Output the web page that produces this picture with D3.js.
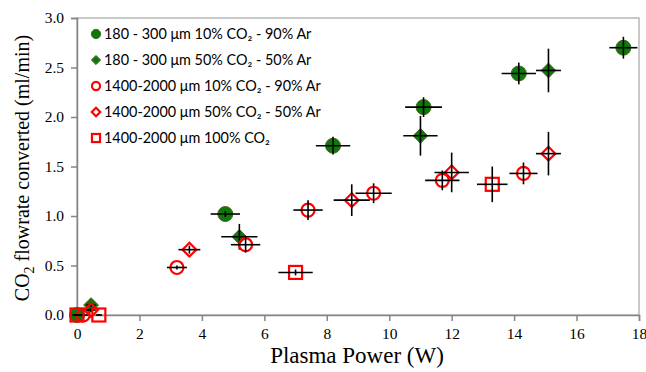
<!DOCTYPE html>
<html><head><meta charset="utf-8">
<script src="https://cdn.jsdelivr.net/npm/d3@7"></script>
<style>body{margin:0;background:#fff}svg{display:block}</style>
</head><body>
<svg id="c" width="646" height="372"></svg>
<script>
// Series data: x (W), y (ml/min), x error, y error
const gcX = [0.0, 4.75, 8.2, 11.1, 14.15, 17.5];
const gcY = [0.0, 1.02, 1.71, 2.10, 2.44, 2.70];
const gcXe = [0.15, 0.47, 0.55, 0.59, 0.55, 0.45];
const gcYe = [0.02, 0.03, 0.09, 0.10, 0.11, 0.11];

const gdX = [0.45, 5.2, 11.0, 15.1];
const gdY = [0.10, 0.79, 1.81, 2.47];
const gdXe = [0.15, 0.58, 0.55, 0.40];
const gdYe = [0.02, 0.13, 0.20, 0.22];

const rcX = [0.2, 3.2, 5.4, 7.4, 9.5, 11.7, 14.3];
const rcY = [0.0, 0.48, 0.71, 1.06, 1.23, 1.36, 1.43];
const rcXe = [0.15, 0.32, 0.47, 0.47, 0.58, 0.55, 0.45];
const rcYe = [0.02, 0.02, 0.08, 0.10, 0.10, 0.10, 0.11];

const rdX = [0.45, 3.6, 8.8, 12.0, 15.1];
const rdY = [0.05, 0.66, 1.16, 1.44, 1.63];
const rdXe = [0.15, 0.35, 0.58, 0.55, 0.40];
const rdYe = [0.02, 0.04, 0.16, 0.20, 0.22];

const rsX = [0.0, 0.7, 7.0, 13.3];
const rsY = [0.0, 0.0, 0.43, 1.32];
const rsXe = [0.1, 0.1, 0.55, 0.49];
const rsYe = [0.01, 0.01, 0.03, 0.18];

const xTicks = [0, 2, 4, 6, 8, 10, 12, 14, 16, 18];
const yTicks = [0.0, 0.5, 1.0, 1.5, 2.0, 2.5, 3.0];
const legendLabels = [
  "180 - 300 μm 10% CO₂ - 90% Ar",
  "180 - 300 μm 50% CO₂ - 50% Ar",
  "1400-2000 μm 10% CO₂ - 90% Ar",
  "1400-2000 μm 50% CO₂ - 50% Ar",
  "1400-2000 μm 100% CO₂"
];

const SERIF = '"Liberation Serif"';
const SANS = '"Lato"';

const svg = d3.select("#c");
const L = 77, R = 639, T = 18, B = 315;
const x = d3.scaleLinear().domain([0, 18]).range([L, R]);
const y = d3.scaleLinear().domain([0, 3]).range([B, T]);

const GREEN = "#0b7a0b", GSTROKE = "#4f6228", RED = "#ff0000";

// frame
svg.append("rect").attr("x", L).attr("y", T).attr("width", R - L).attr("height", B - T)
  .attr("fill", "none").attr("stroke", "#a6a6a6").attr("stroke-width", 1.2);

// axes
const xAxis = d3.axisBottom(x).tickValues(xTicks).tickSize(6).tickFormat(d3.format("d"));
const gx = svg.append("g").attr("transform", `translate(0,${B})`).call(xAxis);
gx.select(".domain").attr("stroke", "#868686").attr("stroke-width", 1.5);
gx.selectAll(".tick line").attr("stroke", "#868686").attr("stroke-width", 1.5);
gx.selectAll(".tick text").style("font-family", SERIF).style("font-size", "15.5px")
  .attr("fill", "#000").attr("dy", "0.95em");

const yAxis = d3.axisLeft(y).tickValues(yTicks).tickSize(6).tickFormat(d3.format(".1f"));
const gy = svg.append("g").attr("transform", `translate(${L},0)`).call(yAxis);
gy.select(".domain").attr("stroke", "#868686").attr("stroke-width", 1.5);
gy.selectAll(".tick line").attr("stroke", "#868686").attr("stroke-width", 1.5);
gy.selectAll(".tick text").style("font-family", SERIF).style("font-size", "15.5px")
  .attr("fill", "#000").attr("x", -13);

// axis titles
svg.append("text").attr("x", 357).attr("y", 363).attr("text-anchor", "middle")
  .style("font-family", SERIF).style("font-size", "23px").text("Plasma Power (W)");
const yt = svg.append("text").attr("transform", `translate(29,168) rotate(-90)`)
  .attr("text-anchor", "middle").style("font-family", SERIF).style("font-size", "20px");
yt.append("tspan").text("CO");
yt.append("tspan").style("font-size", "14px").attr("dy", 5).text("2");
yt.append("tspan").attr("dy", -5).text(" flowrate converted (ml/min)");

// marker shapes
function drawMarker(g, type, cx, cy, k) {
  k = k || 1;
  if (type === "gc") {
    g.append("circle").attr("cx", cx).attr("cy", cy).attr("r", 7.5 * k)
      .attr("fill", GREEN).attr("stroke", GSTROKE).attr("stroke-width", 1);
  } else if (type === "gd") {
    g.append("path").attr("d", d3.symbol(d3.symbolDiamond2, 140 * k * k)())
      .attr("transform", `translate(${cx},${cy})`)
      .attr("fill", GREEN).attr("stroke", GSTROKE).attr("stroke-width", 1);
  } else if (type === "rc") {
    g.append("circle").attr("cx", cx).attr("cy", cy).attr("r", 6.5 * k)
      .attr("fill", "none").attr("stroke", RED).attr("stroke-width", 2.2);
  } else if (type === "rd") {
    g.append("path").attr("d", d3.symbol(d3.symbolDiamond2, 120 * k * k)())
      .attr("transform", `translate(${cx},${cy})`)
      .attr("fill", "none").attr("stroke", RED).attr("stroke-width", 2.2);
  } else if (type === "rs") {
    const h = 6.5 * k;
    g.append("rect").attr("x", cx - h).attr("y", cy - h).attr("width", 2 * h).attr("height", 2 * h)
      .attr("fill", "none").attr("stroke", RED).attr("stroke-width", 2.2);
  }
}

const series = [
  {type: "gc", X: gcX, Y: gcY, Xe: gcXe, Ye: gcYe},
  {type: "gd", X: gdX, Y: gdY, Xe: gdXe, Ye: gdYe},
  {type: "rc", X: rcX, Y: rcY, Xe: rcXe, Ye: rcYe},
  {type: "rd", X: rdX, Y: rdY, Xe: rdXe, Ye: rdYe},
  {type: "rs", X: rsX, Y: rsY, Xe: rsXe, Ye: rsYe}
];

const plot = svg.append("g");
series.forEach(s => {
  const g = plot.append("g");
  s.X.forEach((xv, i) => {
    drawMarker(g, s.type, x(xv), y(s.Y[i]));
  });
  s.X.forEach((xv, i) => {
    const cx = x(xv), cy = y(s.Y[i]);
    g.append("line").attr("x1", x(xv - s.Xe[i])).attr("x2", x(xv + s.Xe[i]))
      .attr("y1", cy).attr("y2", cy).attr("stroke", "#000").attr("stroke-width", 1.6);
    g.append("line").attr("x1", cx).attr("x2", cx)
      .attr("y1", y(s.Y[i] - s.Ye[i])).attr("y2", y(s.Y[i] + s.Ye[i]))
      .attr("stroke", "#000").attr("stroke-width", 1.6);
  });
});

// legend
const lg = svg.append("g");
series.forEach((s, i) => {
  const ly = 34 + i * 26;
  drawMarker(lg, s.type, 96, ly, 0.62);
  lg.append("text").attr("x", 104).attr("y", ly + 5)
    .style("font-family", SANS).style("font-size", "14.4px").attr("fill", "#000")
    .text(legendLabels[i]);
});
</script>
</body></html>
